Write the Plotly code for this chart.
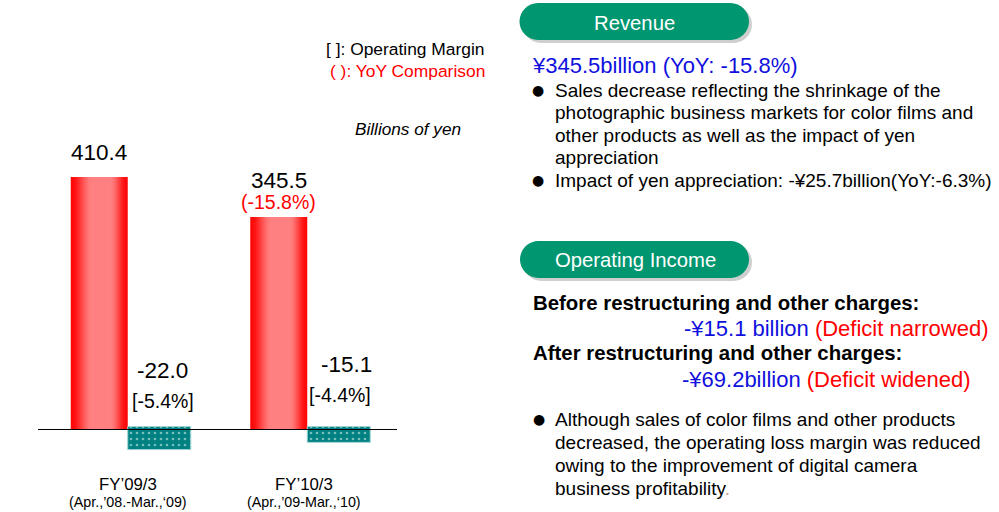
import math
import plotly.graph_objects as go

W, H = 999, 512

# ---------------- data ----------------
categories = ["FY’09/3", "FY’10/3"]
periods = ["(Apr.,’08.-Mar.,‘09)", "(Apr.,’09-Mar.,‘10)"]
revenue = [410.4, 345.5]
operating_income = [-22.0, -15.1]
operating_margin = ["[-5.4%]", "[-4.4%]"]
yoy_comparison = [None, "(-15.8%)"]

legend_lines = ["[ ]: Operating Margin", "( ): YoY Comparison"]
unit_label = "Billions of yen"

revenue_title = "Revenue"
revenue_headline = "¥345.5billion (YoY: -15.8%)"
revenue_bullet1 = ["Sales decrease reflecting the shrinkage of the",
                   "photographic business markets for color films and",
                   "other products as well as the impact of yen",
                   "appreciation"]
revenue_bullet2 = "Impact of yen appreciation: -¥25.7billion(YoY:-6.3%)"

oi_title = "Operating Income"
oi_before_label = "Before restructuring and other charges:"
oi_before_value = "-¥15.1 billion"
oi_before_note = "(Deficit narrowed)"
oi_after_label = "After restructuring and other charges:"
oi_after_value = "-¥69.2billion"
oi_after_note = "(Deficit widened)"
oi_bullet = ["Although sales of color films and other products",
             "decreased, the operating loss margin was reduced",
             "owing to the improvement of digital camera",
             "business profitability"]

# ---------------- styling ----------------
FONT = "Liberation Sans, Arial, Helvetica, sans-serif"
RED = "#ff0000"
BLUE = "#1010dd"
GREEN = "#009670"
TEAL = "#008080"

def px(x):
    return x / W

def py(y):
    return 1 - y / H

xpos = list(range(len(categories)))
RW = 57 / 179.5   # revenue bar width (x units)
TW = 63 / 179.5   # operating income bar width

fig = go.Figure()

# revenue bars: stacked layers (each narrower & lighter) emulate the horizontal gradient
K = 22
for k in range(K):
    f = k / (K - 1)
    left = 0.36 * f
    right = 1 - 0.30 * f
    s = f * f * (3 - 2 * f)
    g = int(round(8 + 120 * s))
    fig.add_bar(x=xpos, y=revenue, offset=-RW + left * RW, width=(right - left) * RW,
                marker=dict(color=f"rgb(255,{g},{g})", line=dict(width=0)),
                hoverinfo="skip", showlegend=False)

# operating income bars (secondary scale)
fig.add_bar(x=xpos, y=operating_income, offset=0, width=TW, yaxis="y2",
            marker=dict(color=TEAL, line=dict(color="#9fd3d3", width=1),
                        pattern=dict(shape=".", fgcolor="#eefafa", size=6, solidity=0.16)),
            showlegend=False)

annotations = []

def ann(text, x, y, size, color="black", xanchor="center", bold=False, italic=False,
        xref="paper", yref="paper", yshift=0, family=FONT):
    t = text
    if bold:
        t = f"<b>{t}</b>"
    if italic:
        t = f"<i>{t}</i>"
    annotations.append(dict(text=t, x=x, y=y, xref=xref, yref=yref, xanchor=xanchor,
                            yanchor="middle", showarrow=False, yshift=yshift,
                            font=dict(family=family, size=size, color=color)))

# revenue values
rev_shift = [24.7, 37]
for i, v in enumerate(revenue):
    ann(f"{v:.1f}", xpos[i] - RW / 2, v, 22.5, xref="x", yref="y", yshift=rev_shift[i])
    if yoy_comparison[i]:
        ann(yoy_comparison[i], xpos[i] - RW / 2, v, 19.5, color=RED, xref="x", yref="y", yshift=15.5)

# operating income labels
oi_pos = [(162, 370, 163, 400.5), (346, 364.5, 340, 395)]
for i, v in enumerate(operating_income):
    x1, y1, x2, y2 = oi_pos[i]
    ann(f"{v:.1f}", px(x1), py(y1), 22.5)
    ann(operating_margin[i], px(x2), py(y2), 19.5)

# category labels
cat_x = [128, 304]
for i, c in enumerate(categories):
    ann(c, px(cat_x[i]), py(484), 16.8)
    ann(periods[i], px(cat_x[i]), py(501.5), 14.3)

# legend text & unit
ann(legend_lines[0], px(487), py(48.5), 17.4, xanchor="right")
ann(legend_lines[1], px(487), py(71), 17.4, color=RED, xanchor="right")
ann(unit_label, px(463), py(128.5), 17.2, xanchor="right", italic=True)

# ---------------- right panel ----------------
shapes = []

def pill(x0, y0, x1, y1, color, layer="above"):
    r = (y1 - y0) / 2
    k = 0.5523 * r
    pts = [
        f"M{px(x0 + r)},{py(y0)}",
        f"L{px(x1 - r)},{py(y0)}",
        f"C{px(x1 - r + k)},{py(y0)} {px(x1)},{py(y0 + r - k)} {px(x1)},{py(y0 + r)}",
        f"C{px(x1)},{py(y0 + r + k)} {px(x1 - r + k)},{py(y1)} {px(x1 - r)},{py(y1)}",
        f"L{px(x0 + r)},{py(y1)}",
        f"C{px(x0 + r - k)},{py(y1)} {px(x0)},{py(y0 + r + k)} {px(x0)},{py(y0 + r)}",
        f"C{px(x0)},{py(y0 + r - k)} {px(x0 + r - k)},{py(y0)} {px(x0 + r)},{py(y0)}",
        "Z",
    ]
    shapes.append(dict(type="path", xref="paper", yref="paper", path=" ".join(pts),
                       fillcolor=color, line=dict(width=0), layer=layer))

# Revenue header
pill(522.5, 6, 752, 43, "#cfcfcf")
pill(519.5, 3, 749, 40, GREEN)
ann(revenue_title, px(634), py(22.5), 20.3, color="white")

ann(revenue_headline, px(530), py(65), 22, color=BLUE, xanchor="left")
rev_lines_y = [90, 112.6, 135.2, 157.8]
BUL = "DejaVu Sans, sans-serif"
ann("●", px(538), py(rev_lines_y[0]), 14, xanchor="center", family=BUL)
for yy, line in zip(rev_lines_y, revenue_bullet1):
    ann(line, px(552.5), py(yy), 19, xanchor="left")
ann("●", px(538), py(180.4), 14, xanchor="center", family=BUL)
ann(revenue_bullet2, px(552.5), py(180.4), 19, xanchor="left")

# Operating income header
pill(523, 244, 752, 281, "#cfcfcf")
pill(520, 241, 749, 278, GREEN)
ann(oi_title, px(635), py(259.5), 20.3, color="white")

ann(oi_before_label, px(530.5), py(303), 20.4, xanchor="left", bold=True)
ann(f"<span style='color:{BLUE}'>{oi_before_value}</span> <span style='color:{RED}'>{oi_before_note}</span>",
    px(990), py(328), 22, xanchor="right")
ann(oi_after_label, px(530.5), py(353), 20.4, xanchor="left", bold=True)
ann(f"<span style='color:{BLUE}'>{oi_after_value}</span> <span style='color:{RED}'>{oi_after_note}</span>",
    px(973), py(379), 22, xanchor="right")

oi_lines_y = [419, 442, 465, 488]
ann("●", px(539), py(oi_lines_y[0]), 14, xanchor="center", family=BUL)
for j, (yy, line) in enumerate(zip(oi_lines_y, oi_bullet)):
    txt = line
    if j == len(oi_bullet) - 1:
        txt = line + "<span style='color:#c8a090'>.</span>"
    ann(txt, px(552.5), py(yy), 19, xanchor="left")

# baseline
shapes.append(dict(type="line", xref="paper", yref="y", x0=px(38), x1=px(397), y0=0, y1=0,
                   line=dict(color="black", width=1), layer="above"))

fig.update_layout(
    width=W, height=H,
    margin=dict(l=0, r=0, t=0, b=0),
    paper_bgcolor="white", plot_bgcolor="white",
    barmode="overlay", showlegend=False,
    xaxis=dict(domain=[px(38), px(397)], range=[-0.5, 1.5], visible=False, fixedrange=True),
    yaxis=dict(domain=[py(460), py(130)], range=[-49.6, 487.0], visible=False, fixedrange=True),
    yaxis2=dict(overlaying="y", range=[-31.9, 282.4], visible=False, fixedrange=True),
    annotations=annotations,
    shapes=shapes,
    font=dict(family=FONT),
)

fig.write_html("out.html", config=dict(displayModeBar=False),
               post_script="document.body.style.margin='0';document.body.style.overflow='hidden';")
